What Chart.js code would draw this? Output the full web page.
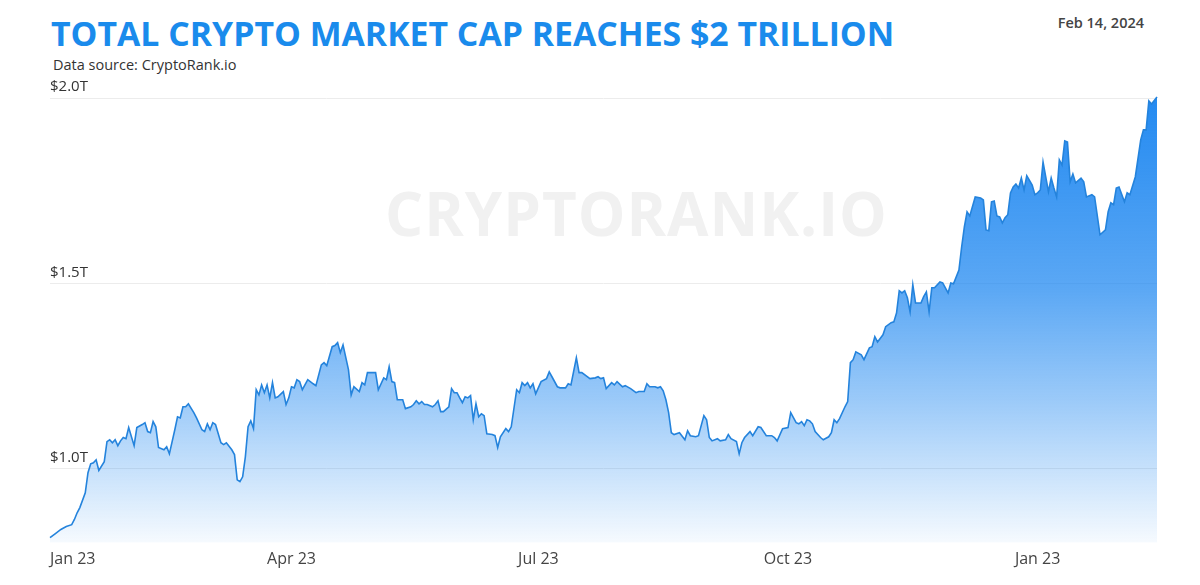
<!DOCTYPE html>
<html>
<head>
<meta charset="utf-8">
<script src="https://cdn.jsdelivr.net/npm/chart.js@4.4.1/dist/chart.umd.min.js"></script>
<style>
  html, body { margin: 0; padding: 0; background: #fff; }
  #wrap { position: relative; width: 1200px; height: 585px; overflow: hidden; font-family: "Open Sans", sans-serif; }
  #title { position: absolute; left: 51px; top: 10px; font-size: 33.8px; font-weight: 700; color: #1a8bec; white-space: nowrap; }
  #source { position: absolute; left: 53px; top: 55px; font-size: 14.5px; color: #333; }
  #date { position: absolute; right: 56px; top: 13px; font-size: 14.5px; font-weight: 600; color: #444; }
  #mark { position: absolute; left: 385px; top: 172px; font-size: 60px; font-weight: 700; color: #f1f1f1; letter-spacing: 1px; white-space: nowrap; }
  #box { position: absolute; left: 0; top: 0; width: 1200px; height: 585px; }
</style>
</head>
<body>
<div id="wrap">
  <div id="mark">CRYPTORANK.IO</div>
  <div id="title">TOTAL CRYPTO MARKET CAP REACHES $2 TRILLION</div>
  <div id="source">Data source: CryptoRank.io</div>
  <div id="date">Feb 14, 2024</div>
  <div id="box"><canvas id="chart"></canvas></div>
</div>
<script>
// ---------------- DATA ----------------
// day = days since 1 Jan 2023, cap = total market cap in trillions USD
const days = [
  1, 3, 5, 7, 9, 10, 11, 12, 14, 15, 16, 17, 18, 19, 21, 22, 23, 24, 25, 26,
  27, 28, 29, 30, 32, 33, 35, 36, 37, 38, 39, 40, 41, 43, 44, 45, 47, 48, 49, 50,
  51, 52, 54, 55, 57, 58, 59, 60, 61, 62, 64, 65, 66, 68, 69, 70, 71, 72, 73, 74,
  75, 76, 77, 78, 79, 80, 81, 82, 83, 84, 85, 87, 88, 89, 90, 91, 92, 93, 94, 96,
  98, 99, 101, 102, 103, 105, 106, 107, 108, 109, 111, 112, 113, 115, 116, 117, 118, 120, 121, 122,
  124, 125, 126, 127, 128, 129, 131, 132, 134, 135, 136, 137, 138, 139, 140, 142, 143, 144, 145, 146,
  148, 149, 150, 151, 152, 153, 154, 155, 156, 157, 158, 159, 160, 161, 162, 164, 165, 166, 167, 169,
  170, 171, 173, 174, 175, 176, 177, 178, 179, 180, 182, 184, 185, 186, 188, 189, 191, 192, 193, 195,
  196, 197, 200, 202, 203, 204, 205, 206, 208, 209, 210, 212, 213, 215, 217, 218, 220, 221, 222, 224,
  225, 226, 227, 228, 229, 230, 231, 233, 235, 236, 237, 239, 240, 242, 243, 244, 245, 247, 248, 250,
  251, 252, 254, 255, 256, 257, 259, 260, 262, 263, 265, 266, 267, 268, 269, 271, 273, 274, 276, 277,
  278, 279, 280, 281, 282, 283, 285, 286, 288, 289, 290, 291, 292, 294, 295, 296, 297, 298, 300, 301,
  303, 304, 305, 306, 308, 309, 311, 312, 313, 314, 315, 316, 317, 318, 319, 320, 322, 323, 324, 325,
  326, 327, 329, 330, 332, 333, 334, 336, 337, 338, 339, 340, 342, 344, 345, 346, 347, 348, 349, 350,
  351, 352, 353, 354, 355, 356, 357, 358, 359, 360, 361, 363, 364, 365, 366, 367, 369, 370, 371, 372,
  373, 374, 375, 376, 377, 378, 379, 381, 382, 383, 385, 386, 388, 390, 391, 392, 393, 394, 395, 397,
  398, 399, 401, 403, 404, 405, 406, 407, 409
];
const caps = [
  0.814, 0.825, 0.836, 0.844, 0.849, 0.863, 0.881, 0.895, 0.935, 0.989, 1.013, 1.016, 1.024, 0.995, 1.019, 1.073, 1.078, 1.070, 1.078, 1.062,
  1.075, 1.084, 1.081, 1.111, 1.062, 1.111, 1.119, 1.124, 1.100, 1.097, 1.127, 1.113, 1.057, 1.051, 1.059, 1.040, 1.105, 1.140, 1.137, 1.167,
  1.167, 1.175, 1.151, 1.137, 1.105, 1.100, 1.121, 1.105, 1.124, 1.119, 1.070, 1.065, 1.070, 1.051, 1.038, 0.970, 0.965, 0.978, 1.032, 1.113,
  1.129, 1.108, 1.213, 1.199, 1.226, 1.205, 1.226, 1.191, 1.232, 1.191, 1.194, 1.208, 1.173, 1.191, 1.221, 1.218, 1.240, 1.235, 1.213, 1.240,
  1.229, 1.224, 1.280, 1.286, 1.278, 1.329, 1.332, 1.340, 1.313, 1.334, 1.267, 1.199, 1.221, 1.208, 1.232, 1.226, 1.259, 1.259, 1.259, 1.213,
  1.245, 1.240, 1.275, 1.235, 1.232, 1.186, 1.186, 1.162, 1.167, 1.173, 1.183, 1.175, 1.181, 1.173, 1.173, 1.167, 1.173, 1.183, 1.154, 1.154,
  1.167, 1.216, 1.205, 1.205, 1.191, 1.178, 1.194, 1.191, 1.197, 1.132, 1.175, 1.140, 1.148, 1.143, 1.094, 1.092, 1.089, 1.057, 1.086, 1.108,
  1.100, 1.113, 1.213, 1.205, 1.232, 1.224, 1.232, 1.218, 1.229, 1.202, 1.235, 1.243, 1.261, 1.248, 1.221, 1.218, 1.218, 1.229, 1.226, 1.299,
  1.259, 1.259, 1.243, 1.245, 1.248, 1.243, 1.245, 1.216, 1.232, 1.226, 1.235, 1.221, 1.224, 1.216, 1.205, 1.208, 1.208, 1.229, 1.221, 1.221,
  1.218, 1.221, 1.210, 1.186, 1.151, 1.097, 1.092, 1.097, 1.078, 1.102, 1.089, 1.086, 1.089, 1.143, 1.132, 1.084, 1.075, 1.081, 1.075, 1.078,
  1.092, 1.081, 1.073, 1.040, 1.070, 1.084, 1.100, 1.089, 1.113, 1.111, 1.089, 1.089, 1.089, 1.084, 1.075, 1.108, 1.111, 1.151, 1.124, 1.121,
  1.127, 1.116, 1.132, 1.129, 1.121, 1.100, 1.084, 1.078, 1.086, 1.097, 1.132, 1.124, 1.135, 1.167, 1.181, 1.286, 1.294, 1.315, 1.307, 1.294,
  1.326, 1.329, 1.356, 1.342, 1.361, 1.383, 1.394, 1.396, 1.420, 1.480, 1.474, 1.480, 1.461, 1.423, 1.496, 1.447, 1.447, 1.464, 1.477, 1.423,
  1.488, 1.488, 1.504, 1.501, 1.474, 1.501, 1.499, 1.536, 1.598, 1.652, 1.693, 1.682, 1.733, 1.730, 1.725, 1.644, 1.642, 1.720, 1.722, 1.682,
  1.679, 1.663, 1.677, 1.685, 1.744, 1.760, 1.768, 1.757, 1.784, 1.752, 1.790, 1.765, 1.739, 1.744, 1.752, 1.827, 1.747, 1.784, 1.757, 1.733,
  1.833, 1.819, 1.884, 1.881, 1.774, 1.795, 1.771, 1.784, 1.774, 1.733, 1.739, 1.733, 1.631, 1.644, 1.693, 1.717, 1.712, 1.757, 1.760, 1.720,
  1.744, 1.739, 1.787, 1.887, 1.914, 1.914, 1.992, 1.984, 2.003
];

// x-axis ticks (days since 1 Jan 2023) and their labels
const tickDays = [1, 90, 181, 273, 365, 409];
const tickLabels = ["Jan 23", "Apr 23", "Jul 23", "Oct 23", "Jan 23", ""];

// y-axis ticks (trillions)
const capTicks = [1.0, 1.5, 2.0];
const capLabels = ["$1.0T", "$1.5T", "$2.0T"];

// ---------------- CHART ----------------
const points = days.map((d, i) => ({ x: d, y: caps[i] }));

function areaFill(context) {
    const area = context.chart.chartArea;
    if (!area) return "rgba(30,136,240,0.5)";
    const g = context.chart.ctx.createLinearGradient(0, area.top, 0, area.bottom);
    g.addColorStop(0, "rgba(24,132,240,0.95)");
    g.addColorStop(0.43, "rgba(24,132,240,0.71)");
    g.addColorStop(0.68, "rgba(24,132,240,0.43)");
    g.addColorStop(0.86, "rgba(24,132,240,0.21)");
    g.addColorStop(1, "rgba(24,132,240,0.04)");
    return g;
}

const chart = new Chart(document.getElementById("chart"), {
    type: "line",
    data: {
        datasets: [{
            data: points,
            borderColor: "#2483dc",
            borderWidth: 1.6,
            backgroundColor: areaFill,
            fill: "start",
            pointRadius: 0,
            tension: 0,
            clip: false
        }]
    },
    options: {
        responsive: true,
        maintainAspectRatio: false,
        animation: false,
        layout: {
            padding: { left: 50, right: 43, top: 98, bottom: 9 }
        },
        plugins: {
            legend: { display: false },
            tooltip: { enabled: false }
        },
        scales: {
            x: {
                type: "linear",
                min: 1,
                max: 409,
                grid: { display: false, drawTicks: false },
                border: { display: false },
                afterBuildTicks: (axis) => {
                    axis.ticks = tickDays.map(v => ({ value: v }));
                },
                ticks: {
                    autoSkip: false,
                    maxRotation: 0,
                    align: "inner",
                    padding: 7,
                    color: "#444",
                    font: { family: "Open Sans", size: 16 },
                    callback: (value) => tickLabels[tickDays.indexOf(value)]
                }
            },
            y: {
                min: 0.8,
                max: 2.0,
                grid: { color: "#ececec", lineWidth: 1, drawTicks: false },
                border: { display: false },
                afterBuildTicks: (axis) => {
                    axis.ticks = capTicks.map(v => ({ value: v }));
                },
                ticks: {
                    mirror: true,
                    padding: 0,
                    labelOffset: -11,
                    color: "#333",
                    font: { family: "Open Sans", size: 15 },
                    callback: (value) => capLabels[capTicks.indexOf(value)]
                }
            }
        }
    }
});
</script>
</body>
</html>
